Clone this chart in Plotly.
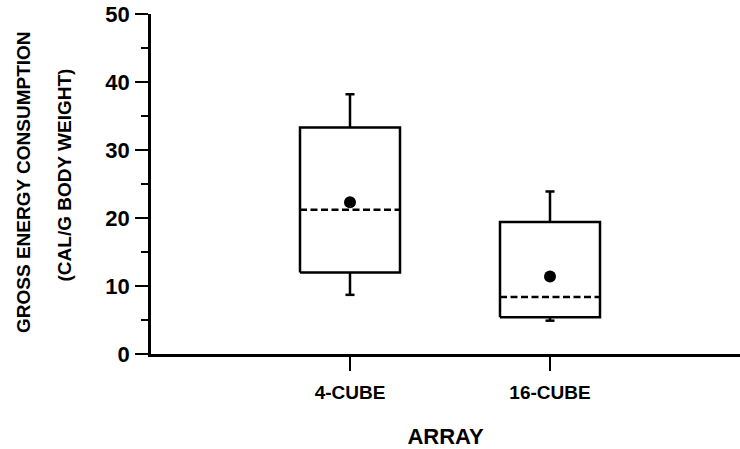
import plotly.graph_objects as go

# Gross energy consumption by cube array (cal/g body weight)
categories = ["4-CUBE", "16-CUBE"]
q1 = [12.0, 5.4]
q3 = [33.3, 19.4]
median = [21.2, 8.4]
mean = [22.3, 11.4]
whisker_low = [8.7, 4.9]
whisker_high = [38.2, 23.9]

y_ticks = [0, 10, 20, 30, 40, 50]

FONT = "Liberation Sans, Arial, sans-serif"
BLACK = "#000000"
HALF_BOX = 0.25
HALF_CAP = 0.0225
LW = 2.5

positions = list(range(1, len(categories) + 1))

fig = go.Figure()

for x, lo, a, med, b, hi, mu in zip(positions, whisker_low, q1, median, q3, whisker_high, mean):
    # box outline
    fig.add_trace(go.Scatter(
        x=[x - HALF_BOX, x + HALF_BOX, x + HALF_BOX, x - HALF_BOX, x - HALF_BOX],
        y=[a, a, b, b, a],
        mode="lines", line=dict(color=BLACK, width=LW),
        fill="toself", fillcolor="white",
        hoverinfo="skip", showlegend=False,
    ))
    # whiskers with caps
    fig.add_trace(go.Scatter(
        x=[x, x, None, x - HALF_CAP, x + HALF_CAP, None,
           x, x, None, x - HALF_CAP, x + HALF_CAP],
        y=[b, hi, None, hi, hi, None,
           a, lo, None, lo, lo],
        mode="lines", line=dict(color=BLACK, width=LW),
        hoverinfo="skip", showlegend=False,
    ))
    # median (dashed)
    fig.add_trace(go.Scatter(
        x=[x - HALF_BOX, x + HALF_BOX], y=[med, med],
        mode="lines", line=dict(color=BLACK, width=LW, dash="7px,3.5px"),
        hoverinfo="skip", showlegend=False,
    ))
    # mean
    fig.add_trace(go.Scatter(
        x=[x], y=[mu], mode="markers",
        marker=dict(color=BLACK, size=12),
        showlegend=False,
    ))

fig.update_layout(
    width=740, height=449,
    margin=dict(l=151, r=0, t=14, b=95),
    plot_bgcolor="white", paper_bgcolor="white",
    font=dict(family=FONT, color=BLACK),
    xaxis=dict(
        range=[0.005, 2.95],
        tickvals=positions, ticktext=categories,
        showgrid=False, zeroline=False,
        showline=True, linecolor=BLACK, linewidth=2.5,
        ticks="outside", ticklen=14, tickwidth=2, tickcolor=BLACK,
        tickfont=dict(family=FONT, size=19, weight="bold", color=BLACK),
        ticklabelstandoff=5,
        title=dict(text="ARRAY", standoff=28,
                   font=dict(family=FONT, size=22, weight="bold", color=BLACK)),
    ),
    yaxis=dict(
        range=[0, 50],
        tickvals=y_ticks,
        showgrid=False, zeroline=False,
        showline=True, linecolor=BLACK, linewidth=2.5,
        ticks="outside", ticklen=13, tickwidth=2, tickcolor=BLACK,
        tickfont=dict(family=FONT, size=22, weight="bold", color=BLACK),
        ticklabelstandoff=1,
        minor=dict(dtick=5, ticks="outside", ticklen=7, tickwidth=2, tickcolor=BLACK, showgrid=False),
    ),
    annotations=[
        dict(text="GROSS ENERGY CONSUMPTION", textangle=-90,
             xref="paper", yref="paper", x=(23.5 - 151) / 589, y=(354 - 182.5) / 340,
             xanchor="center", yanchor="middle", showarrow=False,
             font=dict(family=FONT, size=19, weight="bold", color=BLACK)),
        dict(text="(CAL/G BODY WEIGHT)", textangle=-90,
             xref="paper", yref="paper", x=(63.5 - 151) / 589, y=(354 - 175) / 340,
             xanchor="center", yanchor="middle", showarrow=False,
             font=dict(family=FONT, size=19, weight="bold", color=BLACK)),
    ],
)

fig.write_html("out.html")
